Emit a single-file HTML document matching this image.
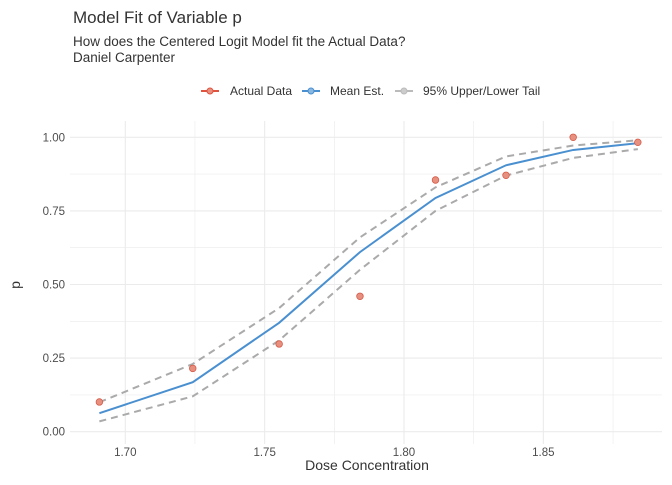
<!DOCTYPE html>
<html><head><meta charset="utf-8"><style>
body{margin:0;background:#fff;font-family:"Liberation Sans",Arial,sans-serif;}
svg text{font-family:"Liberation Sans",Arial,sans-serif;}
</style></head><body>
<svg id="chart" width="672" height="480" viewBox="0 0 672 480">
<text x="73" y="23" font-size="17" fill="#333">Model Fit of Variable p</text>
<text x="73" y="46" font-size="13.5" fill="#333">How does the Centered Logit Model fit the Actual Data?</text>
<text x="73" y="62" font-size="13.5" fill="#333">Daniel Carpenter</text>
<g>
 <g><line x1="201" y1="91" x2="219" y2="91" stroke="#e0533f" stroke-width="2"/><circle cx="210" cy="91" r="3" fill="#e8907f" stroke="#e0533f"/><text x="230" y="95" font-size="12" fill="#333">Actual Data</text></g>
 <g><line x1="302" y1="91" x2="320" y2="91" stroke="#4a90d0" stroke-width="2"/><circle cx="311" cy="91" r="3" fill="#8ab8e0" stroke="#4a90d0"/><text x="330" y="95" font-size="12" fill="#333">Mean Est.</text></g>
 <g><line x1="395" y1="91" x2="413" y2="91" stroke="#bbb" stroke-width="2"/><circle cx="404" cy="91" r="3" fill="#ccc" stroke="#bbb"/><text x="423" y="95" font-size="12" fill="#333">95% Upper/Lower Tail</text></g>
</g>
<g id="grid"></g><g id="axes"></g><g id="marks"></g>
<text x="367" y="470" font-size="14" fill="#333" text-anchor="middle">Dose Concentration</text>
<text transform="translate(20,285) rotate(-90)" font-size="14" fill="#333" text-anchor="middle">p</text>
</svg>
<script>
const doses=[1.6907,1.7242,1.7552,1.7842,1.8113,1.8366,1.8607,1.8839];
const actual=[0.101,0.215,0.298,0.46,0.855,0.871,1.0,0.983];
const meanEst=[0.063,0.168,0.37,0.61,0.794,0.905,0.957,0.98];
const upper=[0.10,0.23,0.42,0.66,0.83,0.935,0.972,0.99];
const lower=[0.035,0.12,0.31,0.55,0.75,0.87,0.93,0.96];
const xTicks=[1.70,1.75,1.80,1.85];
const yTicks=[0,0.25,0.5,0.75,1.0];
const NS="http://www.w3.org/2000/svg";
const X=v=>125.3+(v-1.70)*2787;
const Y=v=>431.7-v*294.4;
const L=70,R=662,T=121,B=444;
function mk(tag,attrs,parent){const e=document.createElementNS(NS,tag);for(const k in attrs)e.setAttribute(k,attrs[k]);document.getElementById(parent).appendChild(e);return e;}
for(let v=1.675;v<=1.90;v+=0.025){const x=X(v);if(x<L||x>R)continue;const major=Math.abs(Math.round(v*20)-v*20)<1e-6;
 const g=mk('line',{x1:x,x2:x,y1:T,y2:B,stroke:'#ebebeb','stroke-width':major?1.1:0.6},'grid');
 
 }
for(let v=0;v<=1.0001;v+=0.125){const y=Y(v);
 const g=mk('line',{x1:L,x2:R,y1:y,y2:y,stroke:'#ebebeb','stroke-width':(Math.round(v*8)%2===0)?1.1:0.6},'grid');
 
 }
xTicks.forEach(v=>{const t=mk('text',{x:X(v),y:456,'font-size':11.5,fill:'#4d4d4d','text-anchor':'middle'},'axes');t.textContent=v.toFixed(2);
 
 });
yTicks.forEach(v=>{const t=mk('text',{x:65,y:Y(v)+4,'font-size':11.5,fill:'#4d4d4d','text-anchor':'end'},'axes');t.textContent=v.toFixed(2);
 
 });
const pts=a=>a.map((v,i)=>X(doses[i])+','+Y(v)).join(' ');
const up=mk('polyline',{points:pts(upper),fill:'none',stroke:'#aaa','stroke-width':2,'stroke-dasharray':'7,5'},'marks');


const lo=mk('polyline',{points:pts(lower),fill:'none',stroke:'#aaa','stroke-width':2,'stroke-dasharray':'7,5'},'marks');


const me=mk('polyline',{points:pts(meanEst),fill:'none',stroke:'#4a90d0','stroke-width':2},'marks');


actual.forEach((v,i)=>{const c=mk('circle',{cx:X(doses[i]),cy:Y(v),r:3.3,fill:'#e8907f',stroke:'#d65a48','stroke-width':0.8},'marks');
 
 });
</script>
</body></html>
